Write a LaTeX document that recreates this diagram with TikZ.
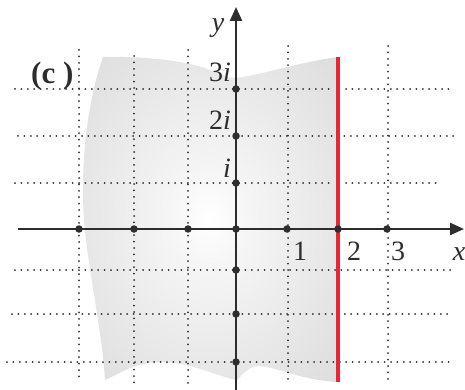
\documentclass[tikz,border=0pt]{standalone}
\usepackage{fontspec}
\setmainfont{Liberation Serif}
\usetikzlibrary{arrows.meta}
\definecolor{axiscol}{RGB}{45,45,45}
\definecolor{redline}{RGB}{232,38,52}
\pgfdeclareradialshading{regionshade}{\pgfpoint{0bp}{0bp}}{%
  color(0bp)=(white); color(8bp)=(white!96!black); color(40bp)=(white!85!black); color(50bp)=(white!85!black)}
\begin{document}
\begin{tikzpicture}[x=1pt,y=-1pt,
  gridline/.style={line width=2pt, dash pattern=on 0pt off 6.4pt, line cap=round, draw=axiscol},
  axisline/.style={line width=2.4pt, draw=axiscol, -{Triangle[length=14pt,width=12pt]}},
  ptdot/.style={circle, fill=axiscol, inner sep=0pt, minimum size=7.5pt},
  lbl/.style={font=\fontsize{28}{32}\selectfont, text=axiscol, inner sep=0pt},
]
\useasboundingbox (0,0) rectangle (465,390);
% shaded region
\path[shading=regionshade]
  (103,57) .. controls (140,56) and (180,60) .. (205,68)
  .. controls (220,74) and (228,78) .. (236,78)
  .. controls (265,74) and (300,62) .. (338,57)
  -- (338,382)
  .. controls (300,380) and (280,368) .. (260,366)
  .. controls (245,366) and (240,380) .. (236,380)
  .. controls (210,374) and (190,362) .. (160,362)
  .. controls (135,362) and (115,376) .. (105,380)
  .. controls (102,330) and (88,270) .. (84,220)
  .. controls (80,160) and (88,100) .. (103,57) -- cycle;
% vertical grid lines
\coordinate (v1t) at (79,50);  \coordinate (v1b) at (79,378);
\coordinate (v2t) at (134,56); \coordinate (v2b) at (134,384);
\coordinate (v3t) at (188,50); \coordinate (v3b) at (188,384);
\coordinate (v4t) at (288,46); \coordinate (v4b) at (288,382);
\coordinate (v5t) at (388,46); \coordinate (v5b) at (388,382);
\foreach \n in {1,...,5} \draw[gridline] (v\n t) -- (v\n b);
% horizontal grid lines
\coordinate (h1a) at (15,89);  \coordinate (h1b) at (331,89);
\coordinate (h1c) at (346,89); \coordinate (h1d) at (450,89);
\coordinate (h2a) at (18,136); \coordinate (h2b) at (456,136);
\coordinate (h3a) at (15,183); \coordinate (h3b) at (331,183);
\coordinate (h3c) at (346,183); \coordinate (h3d) at (441,183);
\coordinate (h4a) at (15,270); \coordinate (h4b) at (453,270);
\coordinate (h5a) at (12,314); \coordinate (h5b) at (449,314);
\coordinate (h6a) at (7,362);  \coordinate (h6b) at (451,362);
\draw[gridline] (h1a) -- (h1b);
\draw[gridline] (h1c) -- (h1d);
\draw[gridline] (h2a) -- (h2b);
\draw[gridline] (h3a) -- (h3b);
\draw[gridline] (h3c) -- (h3d);
\draw[gridline] (h4a) -- (h4b);
\draw[gridline] (h5a) -- (h5b);
\draw[gridline] (h6a) -- (h6b);
% red line
\coordinate (rt) at (338,57); \coordinate (rb) at (338,382);
\draw[redline, line width=3.4pt] (rt) -- (rb);
% axes
\coordinate (xs) at (18,229); \coordinate (xe) at (464,229);
\coordinate (ys) at (236,392); \coordinate (ye) at (236,7);
\draw[axisline] (xs) -- (xe);
\draw[axisline] (ys) -- (ye);
% points
\foreach \px [count=\k] in {79,134,188,236,287,338,387}
  \node[ptdot] (px\k) at (\px,229) {};
\foreach \py [count=\k] in {89,136,183,270,314,362}
  \node[ptdot] (py\k) at (236,\py) {};
% labels
\node[lbl, anchor=base] (ylab) at (218,32) {\textit{y}};
\node[lbl, anchor=base east] (l3i) at (231,82) {3\textit{i}};
\node[lbl, anchor=base east] (l2i) at (231,130) {2\textit{i}};
\node[lbl, anchor=base east] (l1i) at (231,177) {\textit{i}};
\node[lbl, anchor=base] (l1) at (300,260) {1};
\node[lbl, anchor=base] (l2) at (354,260) {2};
\node[lbl, anchor=base] (l3) at (398,260) {3};
\node[lbl, anchor=base] (lx) at (459,260) {\textit{x}};
\node[lbl, font=\bfseries\fontsize{31}{35}\selectfont, anchor=base west] (lc) at (31,84) {(c )};
\end{tikzpicture}
\end{document}
